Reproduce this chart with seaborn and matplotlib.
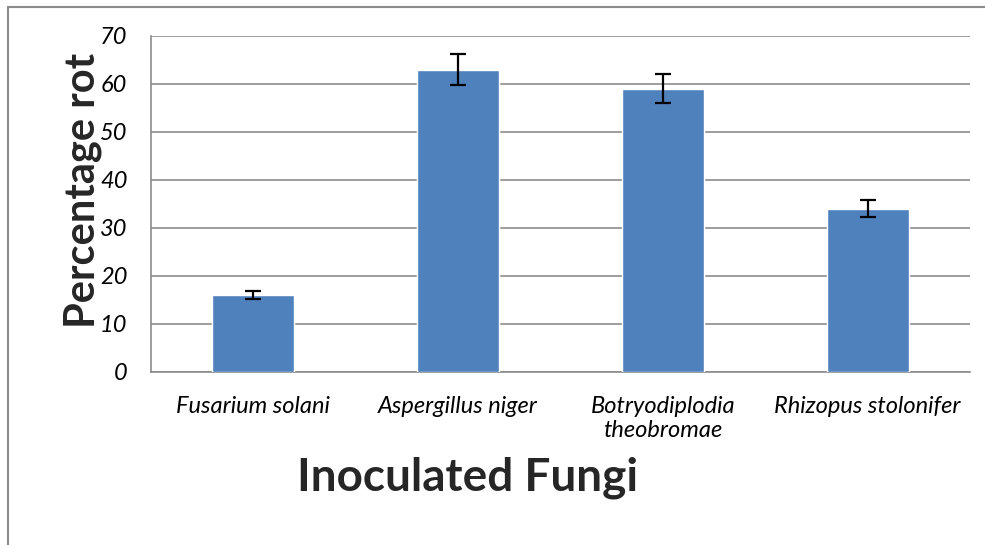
import numpy as np
import pandas as pd
import matplotlib
matplotlib.use("Agg")
import matplotlib.pyplot as plt
import seaborn as sns
from matplotlib.lines import Line2D

fungi = ["Fusarium solani", "Aspergillus niger", "Botryodiplodia\ntheobromae", "Rhizopus stolonifer"]
rot = [16, 63, 59, 34]
err = [0.8, 3.2, 3.0, 1.8]

df = pd.DataFrame({"fungi": fungi, "rot": rot})

sns.set_style("white")
plt.rcParams['font.family'] = ['Lato', 'DejaVu Sans']
plt.rcParams['text.color'] = 'black'
plt.rcParams['xtick.labelcolor'] = 'black'
plt.rcParams['ytick.labelcolor'] = 'black'

fig = plt.figure(figsize=(9.85, 5.45), dpi=100)
ax = fig.add_axes([151/985, 1 - 372/545, (970 - 151)/985, (372 - 36)/545])

sns.barplot(data=df, x="fungi", y="rot", color="#4F81BD", width=0.4,
            saturation=1, ax=ax, zorder=3)
ax.errorbar(np.arange(len(rot)), rot, yerr=err, fmt="none", ecolor="black",
            elinewidth=1.6, capsize=6, capthick=1.6, zorder=4)

ax.set_ylim(0, 70)
ax.set_xlim(-0.5, len(fungi) - 0.5)
ax.set_yticks(range(0, 71, 10))
ax.yaxis.grid(True, color="#8c8c8c", linewidth=1.2, zorder=0)
ax.set_axisbelow(True)

for s in ["top", "right"]:
    ax.spines[s].set_visible(False)
for s in ["left", "bottom"]:
    ax.spines[s].set_color("#8c8c8c")
    ax.spines[s].set_linewidth(1.2)

ax.set_xticks(np.arange(len(fungi)))
ax.set_xticklabels(fungi, fontsize=17, style="italic", linespacing=1.2)
ax.tick_params(axis="x", length=0, pad=17)
ax.set_xticks(np.arange(len(fungi) + 1) - 0.5, minor=True)
ax.tick_params(axis="x", which="minor", length=8, width=1.2, color="#8c8c8c", direction="out")
ax.tick_params(axis="y", length=8, width=1.2, color="#8c8c8c", direction="out",
               labelsize=17, pad=9)
for t in ax.get_yticklabels():
    t.set_fontstyle("italic")

ax.set_xlabel("Inoculated Fungi", fontsize=33, fontweight="bold", va="center")
ax.xaxis.set_label_coords(0.387, -0.315)
ax.set_ylabel("Percentage rot", fontsize=30, fontweight="bold", va="center")
ax.yaxis.set_label_coords(-0.083, 0.54)

# outer chart frame
fig.add_artist(Line2D([8/985, 8/985], [0, 1 - 7/545], transform=fig.transFigure,
                      color="#8c8c8c", linewidth=1.5))
fig.add_artist(Line2D([8/985, 1], [1 - 7/545, 1 - 7/545], transform=fig.transFigure,
                      color="#8c8c8c", linewidth=1.5))

fig.savefig("out.png", dpi=100)
